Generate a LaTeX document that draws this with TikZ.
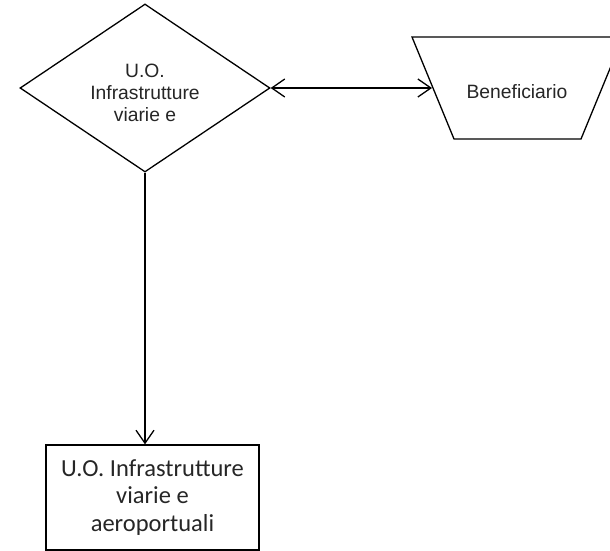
\documentclass[tikz,border=0pt]{standalone}
\usepackage{fontspec}
\setmainfont{Liberation Sans}
\newfontfamily\calibrifont{Carlito}
\usetikzlibrary{shapes.geometric,arrows.meta}
\definecolor{ink}{HTML}{262626}
\begin{document}
\begin{tikzpicture}[x=1pt,y=-1pt,line width=1.3pt,
  flow/.style={-{Straight Barb[length=13pt,width=18pt]}},
  twoway/.style={{Straight Barb[length=13pt,width=18pt]}-{Straight Barb[length=13pt,width=18pt]}},
  decision/.style={diamond,draw,inner sep=0pt,minimum width=250pt,minimum height=168pt},
  label/.style={align=center,text=ink,inner sep=0pt,font=\fontsize{19.3}{21.7}\selectfont},
  office/.style={rectangle,draw,inner sep=0pt,minimum width=213pt,minimum height=105pt,
    align=center,text=ink,font=\calibrifont\fontsize{24.5}{27.5}\selectfont}]
\path[use as bounding box,clip] (0,0) rectangle (610,551);
\fill[white] (0,0) rectangle (610,551);

% decision diamond with its caption
\node[decision] (dia) at (145,88) {};
\node[label] (diat) at (145,93) {U.O.\\Infrastrutture\\viarie e};

% inverted trapezoid for the beneficiary (runs past the right edge)
\draw (412,37) -- (623,37) -- (581,139) -- (454,139) -- cycle;
\coordinate (benL) at (432,88);
\node[label] (ben) at (517,92) {Beneficiario};

% office box
\node[office] (uo) at (152.5,497.5) {U.O. Infrastrutture\\viarie e\\aeroportuali};

\draw[twoway] (dia.east) -- (benL);
\draw[flow] (dia.south) -- (dia.south |- uo.north);
\end{tikzpicture}
\end{document}
